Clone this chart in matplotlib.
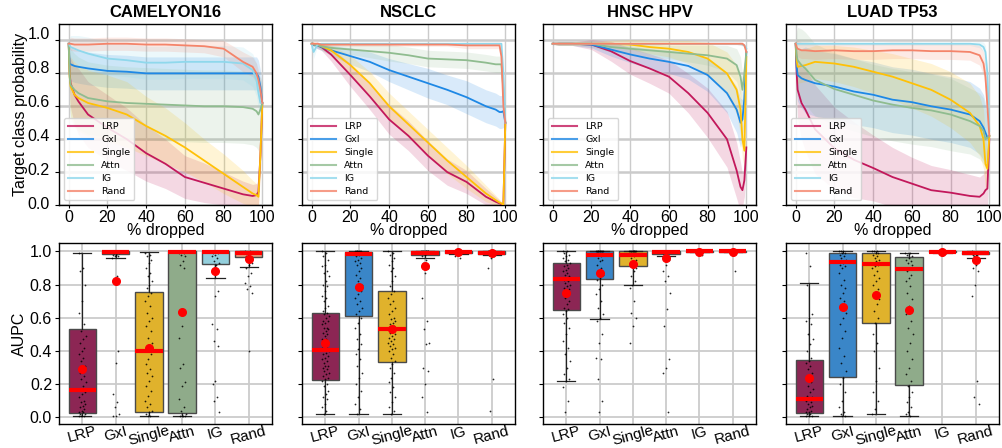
import numpy as np
import matplotlib
matplotlib.use('Agg')
import matplotlib.pyplot as plt

# ---------------- data ----------------
METHODS = ['LRP', 'GxI', 'Single', 'Attn', 'IG', 'Rand']
DATASETS = ['CAMELYON16', 'NSCLC', 'HNSC HPV', 'LUAD TP53']
PCT = [0, 0.5, 1, 3, 5, 10, 20, 30, 40, 50, 60, 70, 80, 90, 95, 97, 98, 99, 100]
XTICKS = [0, 20, 40, 60, 80, 100]
YTICKS = [0.0, 0.2, 0.4, 0.6, 0.8, 1.0]

LINE_COLORS = {'LRP': '#c2185b', 'GxI': '#1e88e5', 'Single': '#ffc107',
               'Attn': '#8fbc8f', 'IG': '#8fd8ec', 'Rand': '#f4846a'}
BOX_COLORS = {'LRP': '#8c2654', 'GxI': '#3a86c8', 'Single': '#e0b22c',
              'Attn': '#8fab8a', 'IG': '#93cfdc', 'Rand': '#e89a7c'}

# mean target-class probability curves and band half-widths
CAM_MEAN = {
    'LRP':    [0.98, 0.80, 0.74, 0.67, 0.63, 0.55, 0.47, 0.40, 0.315, 0.25, 0.17, 0.135, 0.10, 0.065, 0.055, 0.06, 0.08, 0.30, 0.62],
    'GxI':    [0.98, 0.86, 0.855, 0.845, 0.84, 0.83, 0.815, 0.81, 0.80, 0.80, 0.80, 0.80, 0.80, 0.80, 0.80, 0.80, 0.78, 0.72, 0.62],
    'Single': [0.98, 0.78, 0.72, 0.67, 0.65, 0.62, 0.59, 0.55, 0.48, 0.42, 0.35, 0.27, 0.19, 0.11, 0.07, 0.06, 0.05, 0.30, 0.62],
    'Attn':   [0.98, 0.78, 0.73, 0.70, 0.68, 0.65, 0.63, 0.62, 0.615, 0.61, 0.605, 0.60, 0.60, 0.595, 0.585, 0.57, 0.55, 0.58, 0.62],
    'IG':     [0.98, 0.97, 0.96, 0.95, 0.94, 0.92, 0.89, 0.88, 0.865, 0.865, 0.87, 0.87, 0.87, 0.86, 0.82, 0.76, 0.68, 0.62, 0.62],
    'Rand':   [0.98, 0.98, 0.98, 0.975, 0.975, 0.975, 0.98, 0.98, 0.975, 0.975, 0.97, 0.965, 0.95, 0.87, 0.84, 0.80, 0.76, 0.70, 0.62],
}
CAM_SD = {
    'LRP':    [0.01, 0.10, 0.15, 0.18, 0.20, 0.20, 0.20, 0.19, 0.17, 0.15, 0.13, 0.12, 0.10, 0.08, 0.07, 0.07, 0.08, 0.10, 0.10],
    'GxI':    [0.01, 0.10, 0.10, 0.10, 0.10, 0.10, 0.10, 0.10, 0.10, 0.10, 0.10, 0.10, 0.10, 0.10, 0.10, 0.10, 0.10, 0.10, 0.10],
    'Single': [0.01, 0.15, 0.18, 0.20, 0.20, 0.20, 0.20, 0.20, 0.18, 0.17, 0.15, 0.13, 0.12, 0.10, 0.08, 0.07, 0.07, 0.10, 0.10],
    'Attn':   [0.01, 0.20, 0.22, 0.22, 0.22, 0.22, 0.22, 0.22, 0.22, 0.22, 0.22, 0.22, 0.22, 0.22, 0.22, 0.22, 0.22, 0.20, 0.10],
    'IG':     [0.01, 0.05, 0.07, 0.08, 0.09, 0.10, 0.10, 0.10, 0.10, 0.10, 0.10, 0.10, 0.10, 0.10, 0.10, 0.10, 0.10, 0.10, 0.10],
    'Rand':   [0.01, 0.03, 0.04, 0.04, 0.04, 0.04, 0.04, 0.04, 0.04, 0.04, 0.04, 0.04, 0.05, 0.06, 0.06, 0.06, 0.06, 0.06, 0.06],
}

NSC_MEAN = {
    'LRP':    [0.98, 0.98, 0.975, 0.97, 0.96, 0.915, 0.79, 0.66, 0.52, 0.42, 0.30, 0.20, 0.14, 0.05, 0.02, 0.01, 0.005, 0.005, 0.50],
    'GxI':    [0.98, 0.98, 0.975, 0.97, 0.96, 0.94, 0.905, 0.87, 0.82, 0.78, 0.74, 0.70, 0.655, 0.60, 0.58, 0.565, 0.565, 0.57, 0.50],
    'Single': [0.98, 0.98, 0.98, 0.975, 0.965, 0.94, 0.85, 0.74, 0.60, 0.49, 0.38, 0.27, 0.17, 0.07, 0.03, 0.015, 0.01, 0.0, 0.50],
    'Attn':   [0.98, 0.98, 0.975, 0.97, 0.965, 0.955, 0.945, 0.935, 0.925, 0.91, 0.89, 0.885, 0.88, 0.865, 0.855, 0.855, 0.855, 0.70, 0.50],
    'IG':     [0.98, 0.95, 0.93, 0.975, 0.98, 0.98, 0.98, 0.98, 0.98, 0.98, 0.98, 0.98, 0.98, 0.98, 0.98, 0.98, 0.98, 0.80, 0.50],
    'Rand':   [0.98, 0.98, 0.98, 0.98, 0.975, 0.975, 0.975, 0.975, 0.975, 0.975, 0.975, 0.975, 0.97, 0.97, 0.97, 0.97, 0.90, 0.60, 0.50],
}
NSC_SD = {
    'LRP':    [0.005, 0.01, 0.01, 0.02, 0.02, 0.04, 0.07, 0.08, 0.09, 0.09, 0.09, 0.08, 0.07, 0.05, 0.03, 0.02, 0.01, 0.01, 0.02],
    'GxI':    [0.005, 0.01, 0.01, 0.02, 0.02, 0.03, 0.05, 0.06, 0.07, 0.08, 0.09, 0.09, 0.10, 0.10, 0.10, 0.10, 0.10, 0.10, 0.02],
    'Single': [0.005, 0.01, 0.01, 0.01, 0.02, 0.03, 0.06, 0.07, 0.08, 0.08, 0.08, 0.08, 0.07, 0.05, 0.03, 0.02, 0.01, 0.01, 0.02],
    'Attn':   [0.005, 0.01, 0.01, 0.01, 0.02, 0.02, 0.03, 0.04, 0.05, 0.05, 0.05, 0.05, 0.05, 0.05, 0.05, 0.05, 0.05, 0.05, 0.02],
    'IG':     [0.005, 0.03, 0.04, 0.01, 0.005, 0.005, 0.005, 0.005, 0.005, 0.005, 0.005, 0.005, 0.005, 0.005, 0.005, 0.005, 0.005, 0.02, 0.02],
    'Rand':   [0.005, 0.01, 0.01, 0.01, 0.01, 0.01, 0.01, 0.01, 0.01, 0.01, 0.01, 0.01, 0.02, 0.02, 0.02, 0.02, 0.03, 0.03, 0.02],
}

HNS_MEAN = {
    'LRP':    [0.98, 0.98, 0.98, 0.98, 0.98, 0.98, 0.975, 0.935, 0.875, 0.83, 0.78, 0.68, 0.56, 0.40, 0.21, 0.11, 0.09, 0.15, 0.35],
    'GxI':    [0.98, 0.98, 0.98, 0.98, 0.98, 0.98, 0.975, 0.945, 0.915, 0.89, 0.87, 0.845, 0.79, 0.68, 0.58, 0.50, 0.52, 0.65, 0.93],
    'Single': [0.98, 0.98, 0.98, 0.98, 0.98, 0.98, 0.98, 0.98, 0.975, 0.96, 0.95, 0.93, 0.89, 0.80, 0.70, 0.58, 0.40, 0.33, 0.90],
    'Attn':   [0.98, 0.98, 0.98, 0.98, 0.98, 0.98, 0.98, 0.96, 0.95, 0.94, 0.93, 0.92, 0.91, 0.89, 0.85, 0.78, 0.70, 0.80, 0.93],
    'IG':     [0.98, 0.98, 0.98, 0.98, 0.98, 0.98, 0.98, 0.98, 0.98, 0.98, 0.98, 0.98, 0.98, 0.98, 0.98, 0.98, 0.975, 0.97, 0.95],
    'Rand':   [0.98, 0.98, 0.98, 0.98, 0.98, 0.98, 0.98, 0.98, 0.98, 0.98, 0.98, 0.98, 0.98, 0.98, 0.98, 0.98, 0.98, 0.97, 0.93],
}
HNS_SD = {
    'LRP':    [0.005, 0.005, 0.005, 0.01, 0.01, 0.01, 0.03, 0.06, 0.08, 0.09, 0.10, 0.12, 0.15, 0.17, 0.17, 0.15, 0.10, 0.10, 0.05],
    'GxI':    [0.005, 0.005, 0.005, 0.01, 0.01, 0.01, 0.02, 0.04, 0.05, 0.06, 0.07, 0.08, 0.10, 0.12, 0.14, 0.15, 0.12, 0.10, 0.03],
    'Single': [0.005, 0.005, 0.005, 0.01, 0.01, 0.01, 0.01, 0.02, 0.03, 0.04, 0.05, 0.07, 0.10, 0.13, 0.15, 0.15, 0.12, 0.10, 0.03],
    'Attn':   [0.005, 0.005, 0.005, 0.01, 0.01, 0.01, 0.02, 0.03, 0.03, 0.04, 0.04, 0.05, 0.06, 0.08, 0.10, 0.12, 0.10, 0.08, 0.03],
    'IG':     [0.005, 0.005, 0.005, 0.005, 0.005, 0.005, 0.005, 0.005, 0.005, 0.005, 0.005, 0.005, 0.005, 0.005, 0.005, 0.01, 0.01, 0.01, 0.01],
    'Rand':   [0.005, 0.005, 0.005, 0.005, 0.005, 0.005, 0.005, 0.005, 0.005, 0.005, 0.005, 0.005, 0.005, 0.005, 0.005, 0.01, 0.01, 0.01, 0.01],
}

LUA_MEAN = {
    'LRP':    [0.98, 0.80, 0.70, 0.62, 0.58, 0.46, 0.345, 0.275, 0.225, 0.17, 0.13, 0.09, 0.075, 0.055, 0.05, 0.07, 0.09, 0.10, 0.40],
    'GxI':    [0.98, 0.84, 0.79, 0.77, 0.76, 0.74, 0.72, 0.69, 0.67, 0.64, 0.625, 0.60, 0.58, 0.55, 0.51, 0.47, 0.44, 0.41, 0.42],
    'Single': [0.98, 0.88, 0.84, 0.845, 0.85, 0.87, 0.86, 0.84, 0.81, 0.78, 0.74, 0.70, 0.64, 0.56, 0.48, 0.40, 0.25, 0.22, 0.42],
    'Attn':   [0.98, 0.91, 0.88, 0.85, 0.83, 0.76, 0.705, 0.67, 0.635, 0.61, 0.59, 0.575, 0.55, 0.51, 0.48, 0.45, 0.40, 0.41, 0.42],
    'IG':     [0.98, 0.98, 0.98, 0.98, 0.98, 0.98, 0.98, 0.98, 0.98, 0.98, 0.98, 0.98, 0.98, 0.98, 0.975, 0.96, 0.93, 0.80, 0.45],
    'Rand':   [0.98, 0.96, 0.95, 0.94, 0.94, 0.935, 0.94, 0.935, 0.935, 0.94, 0.94, 0.935, 0.935, 0.93, 0.91, 0.86, 0.78, 0.60, 0.42],
}
LUA_SD = {
    'LRP':    [0.01, 0.12, 0.18, 0.22, 0.25, 0.27, 0.25, 0.23, 0.20, 0.18, 0.16, 0.15, 0.14, 0.13, 0.12, 0.12, 0.12, 0.12, 0.05],
    'GxI':    [0.01, 0.12, 0.16, 0.18, 0.20, 0.20, 0.20, 0.20, 0.20, 0.20, 0.20, 0.20, 0.20, 0.20, 0.20, 0.20, 0.18, 0.15, 0.05],
    'Single': [0.01, 0.10, 0.10, 0.10, 0.10, 0.10, 0.11, 0.12, 0.13, 0.14, 0.15, 0.16, 0.17, 0.18, 0.18, 0.18, 0.15, 0.12, 0.05],
    'Attn':   [0.01, 0.15, 0.20, 0.22, 0.22, 0.22, 0.22, 0.22, 0.22, 0.22, 0.22, 0.22, 0.22, 0.20, 0.20, 0.20, 0.18, 0.15, 0.05],
    'IG':     [0.01, 0.01, 0.01, 0.01, 0.01, 0.01, 0.01, 0.01, 0.01, 0.01, 0.01, 0.01, 0.01, 0.01, 0.02, 0.03, 0.04, 0.05, 0.05],
    'Rand':   [0.01, 0.04, 0.05, 0.05, 0.05, 0.05, 0.05, 0.05, 0.05, 0.05, 0.05, 0.05, 0.05, 0.05, 0.06, 0.07, 0.08, 0.08, 0.05],
}

# AUPC box statistics: [whislo, q1, median, q3, whishi, mean]
CAM_BOX = {'LRP': [0.01, 0.028, 0.163, 0.53, 0.99, 0.29], 'GxI': [0.962, 0.985, 0.995, 1.0, 1.0, 0.82],
           'Single': [0.01, 0.032, 0.40, 0.755, 0.995, 0.415], 'Attn': [0.01, 0.028, 0.995, 1.0, 1.0, 0.637],
           'IG': [0.837, 0.923, 0.993, 1.0, 1.0, 0.884], 'Rand': [0.907, 0.968, 0.99, 1.0, 1.0, 0.955]}
NSC_BOX = {'LRP': [0.018, 0.223, 0.405, 0.626, 1.0, 0.446], 'GxI': [0.02, 0.61, 0.985, 0.995, 1.0, 0.787],
           'Single': [0.02, 0.333, 0.53, 0.761, 1.0, 0.535], 'Attn': [0.96, 0.98, 0.99, 1.0, 1.0, 0.911],
           'IG': [0.985, 0.99, 0.995, 1.0, 1.0, 0.995], 'Rand': [0.98, 0.985, 0.99, 1.0, 1.0, 0.988]}
HNS_BOX = {'LRP': [0.219, 0.645, 0.831, 0.932, 1.0, 0.751], 'GxI': [0.595, 0.831, 0.98, 1.0, 1.0, 0.872],
           'Single': [0.795, 0.911, 0.98, 1.0, 1.0, 0.926], 'Attn': [0.97, 0.985, 0.995, 1.0, 1.0, 0.958],
           'IG': [0.995, 0.998, 1.0, 1.0, 1.0, 0.998], 'Rand': [0.995, 0.998, 1.0, 1.0, 1.0, 0.998]}
LUA_BOX = {'LRP': [0.01, 0.028, 0.108, 0.343, 0.807, 0.235], 'GxI': [0.01, 0.243, 0.938, 0.99, 1.0, 0.667],
           'Single': [0.02, 0.57, 0.922, 0.99, 1.0, 0.737], 'Attn': [0.01, 0.193, 0.896, 0.968, 0.99, 0.645],
           'IG': [0.99, 0.993, 0.997, 1.0, 1.0, 0.998], 'Rand': [0.96, 0.985, 0.99, 0.995, 1.0, 0.948]}

# individual AUPC values (strip points)
CAM_PTS = {
    'LRP': [0.99, 0.90, 0.88, 0.80, 0.70, 0.63, 0.56, 0.52, 0.49, 0.47, 0.45, 0.42, 0.40, 0.38, 0.36, 0.34, 0.31, 0.29, 0.27, 0.25, 0.23,
            0.21, 0.19, 0.17, 0.15, 0.14, 0.12, 0.10, 0.09, 0.08, 0.07, 0.06, 0.05, 0.04, 0.03, 0.03, 0.02, 0.02, 0.01, 0.01, 0.01, 0.01],
    'GxI': [1.0, 1.0, 1.0, 1.0, 1.0, 1.0, 0.99, 0.99, 0.99, 0.98, 0.98, 0.97, 0.97, 0.96, 0.85, 0.83, 0.40, 0.33, 0.14, 0.09, 0.06, 0.02, 0.01, 0.01],
    'Single': [0.99, 0.98, 0.97, 0.95, 0.93, 0.90, 0.87, 0.85, 0.82, 0.80, 0.78, 0.75, 0.73, 0.70, 0.67, 0.63, 0.60, 0.58, 0.55, 0.52, 0.48,
               0.45, 0.42, 0.40, 0.38, 0.35, 0.32, 0.29, 0.27, 0.25, 0.22, 0.19, 0.16, 0.13, 0.10, 0.08, 0.06, 0.04, 0.03, 0.02, 0.01, 0.01],
    'Attn': [1.0, 1.0, 1.0, 1.0, 1.0, 0.99, 0.99, 0.98, 0.97, 0.94, 0.92, 0.90, 0.55, 0.48, 0.32, 0.30, 0.21, 0.19, 0.11, 0.06, 0.04, 0.02,
             0.01, 0.01, 0.01, 0.01],
    'IG': [1.0, 1.0, 0.99, 0.99, 0.98, 0.97, 0.96, 0.94, 0.93, 0.92, 0.88, 0.76, 0.73, 0.56, 0.53, 0.46, 0.43, 0.22, 0.20, 0.12, 0.10, 0.03],
    'Rand': [1.0, 1.0, 0.99, 0.99, 0.98, 0.97, 0.96, 0.95, 0.93, 0.92, 0.90, 0.87, 0.85, 0.81, 0.79, 0.77, 0.75, 0.40],
}
NSC_PTS = {
    'LRP': [1.0, 0.99, 0.97, 0.95, 0.92, 0.91, 0.88, 0.87, 0.85, 0.82, 0.80, 0.79, 0.76, 0.73, 0.72, 0.70, 0.67, 0.66, 0.64, 0.63, 0.62, 0.61,
            0.60, 0.58, 0.58, 0.57, 0.56, 0.54, 0.54, 0.53, 0.52, 0.51, 0.50, 0.49, 0.47, 0.47, 0.46, 0.45, 0.44, 0.42, 0.42, 0.41, 0.40,
            0.39, 0.38, 0.37, 0.36, 0.35, 0.34, 0.33, 0.31, 0.31, 0.30, 0.29, 0.28, 0.27, 0.26, 0.25, 0.24, 0.23, 0.22, 0.20, 0.19, 0.16,
            0.14, 0.12, 0.11, 0.08, 0.06, 0.04, 0.02],
    'GxI': [1.0, 1.0, 1.0, 1.0, 1.0, 1.0, 1.0, 1.0, 0.99, 0.98, 0.97, 0.96, 0.95, 0.94, 0.93, 0.92, 0.90, 0.88, 0.86, 0.84, 0.82, 0.80,
            0.79, 0.78, 0.76, 0.74, 0.72, 0.70, 0.68, 0.66, 0.64, 0.62, 0.60, 0.57, 0.54, 0.50, 0.47, 0.44, 0.41, 0.38, 0.35, 0.31, 0.27,
            0.24, 0.20, 0.16, 0.12, 0.08, 0.05, 0.02],
    'Single': [1.0, 0.99, 0.98, 0.96, 0.94, 0.92, 0.90, 0.88, 0.85, 0.82, 0.79, 0.76, 0.74, 0.72, 0.70, 0.68, 0.66, 0.64, 0.62, 0.60,
               0.59, 0.58, 0.57, 0.56, 0.55, 0.54, 0.53, 0.52, 0.51, 0.50, 0.49, 0.48, 0.47, 0.46, 0.45, 0.44, 0.43, 0.42, 0.41, 0.40,
               0.38, 0.36, 0.34, 0.32, 0.30, 0.27, 0.24, 0.21, 0.18, 0.15, 0.12, 0.09, 0.06, 0.04, 0.02],
    'Attn': [1.0, 1.0, 1.0, 1.0, 1.0, 1.0, 1.0, 1.0, 1.0, 1.0, 0.99, 0.99, 0.98, 0.97, 0.95, 0.93, 0.90, 0.87, 0.72, 0.58, 0.53, 0.45,
             0.44, 0.30, 0.28, 0.20, 0.12, 0.03],
    'IG': [1.0, 1.0, 1.0, 1.0, 1.0, 1.0, 1.0, 1.0, 1.0, 1.0, 0.99, 0.99, 0.98, 0.97, 0.96],
    'Rand': [1.0, 1.0, 1.0, 1.0, 1.0, 1.0, 1.0, 1.0, 0.99, 0.99, 0.98, 0.97, 0.96, 0.90, 0.23, 0.04],
}
HNS_PTS = {
    'LRP': [1.0, 1.0, 0.99, 0.98, 0.97, 0.96, 0.95, 0.94, 0.93, 0.92, 0.91, 0.90, 0.89, 0.88, 0.87, 0.86, 0.85, 0.84, 0.83, 0.82, 0.81,
            0.80, 0.79, 0.78, 0.77, 0.76, 0.75, 0.74, 0.72, 0.70, 0.68, 0.66, 0.65, 0.64, 0.62, 0.60, 0.57, 0.54, 0.50, 0.46, 0.42, 0.38,
            0.34, 0.30, 0.26, 0.23, 0.22, 0.18, 0.10, 0.03],
    'GxI': [1.0, 1.0, 1.0, 1.0, 1.0, 1.0, 1.0, 1.0, 1.0, 1.0, 0.99, 0.99, 0.98, 0.98, 0.97, 0.96, 0.95, 0.94, 0.92, 0.90, 0.88, 0.86,
            0.84, 0.83, 0.80, 0.77, 0.74, 0.70, 0.66, 0.62, 0.60, 0.58, 0.50, 0.45, 0.36, 0.35, 0.23, 0.10, 0.03],
    'Single': [1.0, 1.0, 1.0, 1.0, 1.0, 1.0, 1.0, 1.0, 1.0, 1.0, 0.99, 0.99, 0.98, 0.98, 0.97, 0.96, 0.95, 0.94, 0.93, 0.92, 0.91, 0.90,
               0.88, 0.85, 0.82, 0.80, 0.78, 0.70, 0.63, 0.60, 0.55, 0.45],
    'Attn': [1.0, 1.0, 1.0, 1.0, 1.0, 1.0, 1.0, 1.0, 1.0, 1.0, 1.0, 1.0, 0.99, 0.99, 0.98, 0.97, 0.95, 0.92, 0.88, 0.85, 0.82, 0.75,
             0.65, 0.55, 0.35, 0.30, 0.27, 0.03],
    'IG': [1.0, 1.0, 1.0, 1.0, 1.0, 1.0, 1.0, 1.0, 1.0, 1.0, 0.99, 0.98],
    'Rand': [1.0, 1.0, 1.0, 1.0, 1.0, 1.0, 1.0, 1.0, 1.0, 1.0, 0.99, 0.88],
}
LUA_PTS = {
    'LRP': [0.99, 0.91, 0.80, 0.62, 0.60, 0.58, 0.56, 0.50, 0.47, 0.44, 0.40, 0.36, 0.34, 0.33, 0.31, 0.29, 0.27, 0.25, 0.23, 0.21, 0.19,
            0.17, 0.15, 0.13, 0.12, 0.11, 0.10, 0.09, 0.08, 0.07, 0.06, 0.05, 0.04, 0.03, 0.03, 0.02, 0.02, 0.01, 0.01, 0.01],
    'GxI': [1.0, 1.0, 1.0, 0.99, 0.99, 0.98, 0.97, 0.96, 0.95, 0.93, 0.92, 0.91, 0.90, 0.87, 0.83, 0.80, 0.78, 0.75, 0.72, 0.70, 0.67,
            0.63, 0.60, 0.56, 0.52, 0.48, 0.42, 0.37, 0.33, 0.28, 0.24, 0.20, 0.15, 0.10, 0.06, 0.03, 0.02, 0.01, 0.01],
    'Single': [1.0, 1.0, 1.0, 0.99, 0.99, 0.98, 0.97, 0.96, 0.95, 0.94, 0.93, 0.92, 0.91, 0.90, 0.88, 0.86, 0.84, 0.82, 0.80, 0.77,
               0.74, 0.71, 0.68, 0.64, 0.60, 0.57, 0.50, 0.45, 0.40, 0.30, 0.22, 0.15, 0.10, 0.05, 0.02],
    'Attn': [0.99, 0.99, 0.98, 0.97, 0.96, 0.95, 0.94, 0.93, 0.92, 0.90, 0.88, 0.86, 0.84, 0.82, 0.79, 0.75, 0.71, 0.67, 0.62, 0.58,
             0.54, 0.50, 0.45, 0.40, 0.35, 0.30, 0.26, 0.22, 0.19, 0.15, 0.12, 0.09, 0.06, 0.03, 0.02, 0.01],
    'IG': [1.0, 1.0, 1.0, 1.0, 1.0, 1.0, 1.0, 1.0, 0.99, 0.98],
    'Rand': [1.0, 0.99, 0.99, 0.99, 0.99, 0.98, 0.98, 0.97, 0.95, 0.92, 0.90, 0.88, 0.80, 0.73, 0.22, 0.12, 0.08],
}

MEANS = [CAM_MEAN, NSC_MEAN, HNS_MEAN, LUA_MEAN]
SDS = [CAM_SD, NSC_SD, HNS_SD, LUA_SD]
BOXES = [CAM_BOX, NSC_BOX, HNS_BOX, LUA_BOX]
POINTS = [CAM_PTS, NSC_PTS, HNS_PTS, LUA_PTS]

# ---------------- figure ----------------
FONT = ['Liberation Sans', 'DejaVu Sans']
plt.rcParams['font.family'] = FONT
W, H = 1002, 448
fig = plt.figure(figsize=(W / 100, H / 100), dpi=100)

lefts = [59, 302, 543, 786]
axw = 213
top_y0, top_y1 = 24, 205
bot_y0, bot_y1 = 243, 424
GRID = '#cbcbcb'


def frac(x0, y0, w, h):
    return [x0 / W, 1 - (y0 + h) / H, w / W, h / H]


for i, ds in enumerate(DATASETS):
    # ---------- top: perturbation curves ----------
    ax = fig.add_axes(frac(lefts[i], top_y0, axw, top_y1 - top_y0))
    x = np.array(PCT, dtype=float)
    for m in METHODS:
        mu = np.array(MEANS[i][m])
        sd = np.array(SDS[i][m])
        c = LINE_COLORS[m]
        ax.fill_between(x, mu - sd, mu + sd, color=c, alpha=0.17, lw=0, zorder=1)
        ax.plot(x, mu, color=c, lw=1.3, label=m, zorder=3)
    ax.set_xlim(-5, 105)
    ax.set_ylim(0, 1.1)
    ax.set_xticks(XTICKS)
    ax.set_yticks(YTICKS)
    ax.set_yticklabels([])
    ax.xaxis.grid(True, color=GRID, lw=1.0, zorder=0)
    ax.yaxis.grid(True, color=GRID, lw=1.8, zorder=0)
    ax.set_axisbelow(True)
    ax.tick_params(axis='x', labelsize=11.5, length=2.5, pad=1.0)
    ax.tick_params(axis='y', length=3, pad=2)
    ax.set_xlabel('% dropped', fontsize=11.5, labelpad=-1)
    ax.set_title(ds, fontsize=12, fontweight='bold', pad=5)
    for s in ax.spines.values():
        s.set_linewidth(1.0)
    leg = ax.legend(loc='lower left', prop={'family': 'DejaVu Sans', 'size': 6.8},
                    handlelength=2.6, labelspacing=0.42, borderpad=0.45, handletextpad=0.9,
                    framealpha=0.85, edgecolor='#d0d0d0', bbox_to_anchor=(0.0, 0.0))
    for lh in leg.get_lines():
        lh.set_alpha(0.8)
        lh.set_linewidth(1.5)
    if i == 0:
        ax.set_ylabel('Target class probability', fontsize=11.5, labelpad=17)
        # tick labels (placed as in the reference)
        lab = fig.add_axes(frac(lefts[i], top_y0, axw, top_y1 - top_y0))
        lab.set_ylim(-0.0118, 1.053)
        lab.set_yticks(YTICKS)
        lab.set_yticklabels(['%.1f' % v for v in YTICKS])
        lab.tick_params(axis='y', length=0, pad=6.5, labelsize=11.5)
        lab.set_xticks([])
        lab.patch.set_visible(False)
        for s in lab.spines.values():
            s.set_visible(False)

    # ---------- bottom: AUPC boxplots ----------
    bx = fig.add_axes(frac(lefts[i], bot_y0, axw, bot_y1 - bot_y0))
    stats = []
    for m in METHODS:
        lo, q1, med, q3, hi, mean = BOXES[i][m]
        stats.append(dict(label=m, whislo=lo, q1=q1, med=med, q3=q3, whishi=hi, mean=mean, fliers=[]))
    pos = np.arange(len(METHODS))
    bp = bx.bxp(stats, positions=pos, widths=0.82, capwidths=0.55, patch_artist=True, showmeans=True,
                showfliers=False,
                boxprops=dict(edgecolor='#4a4a4a', linewidth=1.0),
                whiskerprops=dict(color='#222222', linewidth=0.9),
                capprops=dict(color='#222222', linewidth=0.9),
                medianprops=dict(color='#ff0000', linewidth=3.0, solid_capstyle='butt'),
                meanprops=dict(marker='o', markerfacecolor='#ff0000', markeredgecolor='#ff0000', markersize=5.5))
    for patch, m in zip(bp['boxes'], METHODS):
        patch.set_facecolor(BOX_COLORS[m])
        patch.set_zorder(2)
    for ln in bp['whiskers'] + bp['caps']:
        ln.set_zorder(2.5)
    for ln in bp['medians']:
        ln.set_zorder(5)
    for ln in bp['means']:
        ln.set_zorder(6)
    for k, m in enumerate(METHODS):
        v = np.array(POINTS[i][m])
        n = len(v)
        jit = ((np.arange(n) * 0.6180339) % 1.0 - 0.5) * 0.22
        bx.scatter(pos[k] + jit, v, s=1.6, color='black', alpha=0.85, lw=0, zorder=4)
    bx.set_xlim(-0.7, 5.7)
    bx.set_ylim(-0.04, 1.05)
    bx.set_yticks(YTICKS)
    bx.set_xticks(pos)
    bx.set_xticklabels(METHODS, rotation=15, fontsize=11)
    bx.tick_params(axis='x', length=0, pad=0.0)
    bx.tick_params(axis='y', length=3, pad=2, labelsize=11.5)
    bx.grid(True, color=GRID, lw=1.3, zorder=0)
    bx.set_axisbelow(True)
    for s in bx.spines.values():
        s.set_linewidth(1.0)
    if i == 0:
        bx.set_ylabel('AUPC', fontsize=11.5, labelpad=2)
    else:
        bx.set_yticklabels([])

fig.savefig('out.png', dpi=100)
